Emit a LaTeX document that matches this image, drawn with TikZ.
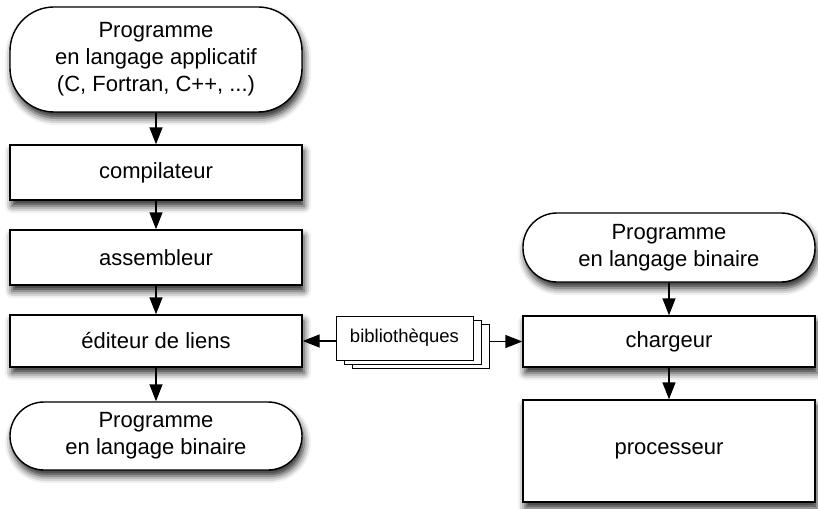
\documentclass[tikz,border=0pt]{standalone}
\usepackage{fontspec}
\setmainfont{Liberation Sans}
\usetikzlibrary{arrows.meta,shadows.blur}
\begin{document}
\begin{tikzpicture}[x=1pt,y=-1pt,
  every node/.style={font=\fontsize{22}{27}\selectfont, align=center, inner sep=0pt},
  shade/.style={blur shadow={shadow xshift=2pt, shadow yshift=-6pt,
      shadow blur radius=7pt, shadow opacity=85}},
  stepbox/.style={draw, line width=1.4pt, fill=white, minimum width=292pt, shade},
  terminal/.style={stepbox, rounded corners=34pt},
  libbox/.style={draw, line width=1pt, fill=white, minimum width=137pt, minimum height=44pt,
      font=\fontsize{18.5}{22}\selectfont},
  arr/.style={line width=1.4pt, -{Triangle[length=17pt,width=13pt]}}]
  \useasboundingbox (0,0) rectangle (818,508);

  % compilation chain
  \node[terminal, rounded corners=44pt, minimum height=105pt] (src) at (156,59.5)
    {Programme\\en langage applicatif\\(C, Fortran, C++, ...)};
  \node[stepbox, minimum height=55pt] (comp) at (156,172.5) {compilateur};
  \node[stepbox, minimum height=55pt] (asm) at (156,257.5) {assembleur};
  \node[stepbox, minimum height=52pt] (link) at (156,341) {éditeur de liens};
  \node[terminal, minimum height=68pt] (bin) at (156,436) {Programme\\en langage binaire};

  % execution chain
  \node[terminal, minimum height=69pt] (bin2) at (669,247.5) {Programme\\en langage binaire};
  \node[stepbox, minimum height=51pt] (load) at (669,341.5) {chargeur};
  \node[stepbox, minimum height=102pt] (cpu) at (669,451) {processeur};

  % stack of libraries
  \node[libbox] (lib3) at (420.5,346) {};
  \node[libbox] (lib2) at (412.5,342) {};
  \node[libbox] (lib) at (404.5,338) {bibliothèques};

  % connectors
  \draw[arr] (src) -- (comp);
  \draw[arr] (comp) -- (asm);
  \draw[arr] (asm) -- (link);
  \draw[arr] (link) -- (bin);
  \draw[arr] (lib.west |- link.east) -- (link.east);
  \draw[arr] (lib3.east |- load.west) -- (load.west);
  \draw[arr] (bin2) -- (load);
  \draw[arr] (load) -- (cpu);
\end{tikzpicture}
\end{document}
